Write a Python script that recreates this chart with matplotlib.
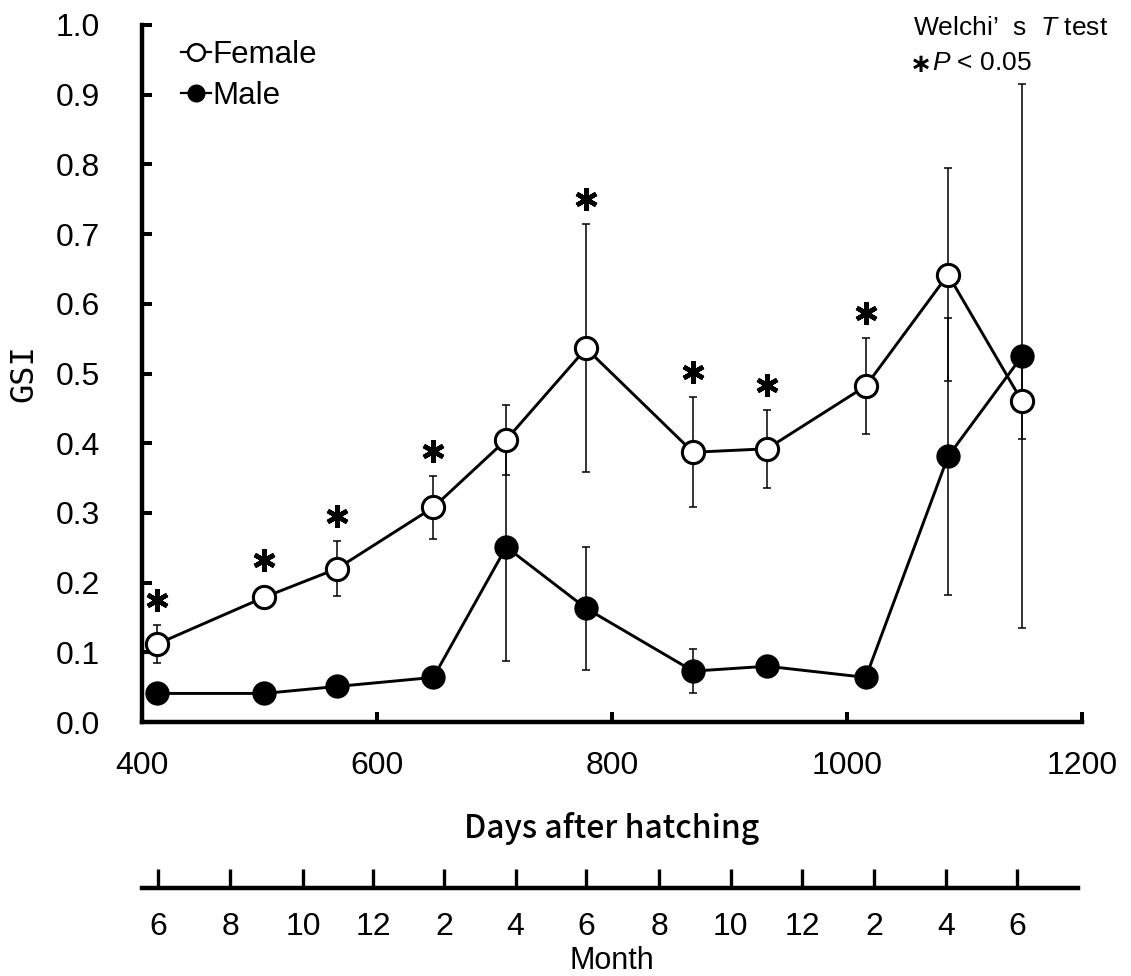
import matplotlib
matplotlib.use("Agg")
import matplotlib.pyplot as plt
from matplotlib.lines import Line2D

# GSI of female / male, mean and error
days = [413, 504, 566, 648, 710, 778, 869, 932, 1016, 1086, 1149]
female = [0.112, 0.179, 0.220, 0.308, 0.405, 0.536, 0.387, 0.392, 0.482, 0.642, 0.460]
female_err = [0.027, 0.008, 0.039, 0.045, 0.050, 0.178, 0.079, 0.056, 0.069, 0.153, 0.054]
male = [0.041, 0.041, 0.051, 0.064, 0.251, 0.163, 0.073, 0.080, 0.064, 0.381, 0.525]
male_err = [0.005, 0.005, 0.006, 0.008, 0.164, 0.088, 0.032, 0.010, 0.008, 0.199, 0.390]
significant = [True, True, True, True, False, True, True, True, True, False, False]

y_ticks = [0.0, 0.1, 0.2, 0.3, 0.4, 0.5, 0.6, 0.7, 0.8, 0.9, 1.0]
x_ticks = [400, 600, 800, 1000, 1200]

# month scale under the day axis
month_days = [414, 475, 537, 597, 657, 718, 778, 840, 901, 962, 1023, 1084, 1145]
month_labels = ['6', '8', '10', '12', '2', '4', '6', '8', '10', '12', '2', '4', '6']

plt.rcParams['font.family'] = ['Liberation Sans', 'DejaVu Sans']
plt.rcParams['mathtext.fontset'] = 'custom'
plt.rcParams['mathtext.it'] = 'Liberation Sans:italic'
plt.rcParams['mathtext.rm'] = 'Liberation Sans'

W, H = 1131, 976
fig = plt.figure(figsize=(W / 100, H / 100), dpi=100)
ax = fig.add_axes([142 / W, 1 - 722 / H, 940 / W, 697 / H])

# error bars first so the markers sit on top
ax.errorbar(days, female, yerr=female_err, fmt='none', ecolor='black',
            elinewidth=1.1, capsize=3, capthick=1.1, zorder=2)
ax.errorbar(days, male, yerr=male_err, fmt='none', ecolor='black',
            elinewidth=1.1, capsize=3, capthick=1.1, zorder=2)
ax.plot(days, male, '-o', color='black', lw=2.1, ms=16, mfc='black',
        mec='black', mew=1.5, zorder=3, clip_on=False)
ax.plot(days, female, '-o', color='black', lw=2.1, ms=16, mfc='white',
        mec='black', mew=2.2, zorder=4, clip_on=False)

# significance asterisks
for d, f, fe, s in zip(days, female, female_err, significant):
    if s:
        top = max(f + fe, f + 0.017)
        ax.plot(d, top + 0.036, marker=(6, 2, 0), ms=16, mew=3.3,
                color='black', zorder=5)

ax.set_xlim(400, 1200)
ax.set_ylim(0, 1.0)
ax.set_xticks(x_ticks)
ax.set_yticks(y_ticks)
ax.set_yticklabels(['%.1f' % v for v in y_ticks])
ax.tick_params(axis='both', direction='in', width=2.9, labelsize=23)
ax.tick_params(axis='x', length=7, pad=21)
ax.tick_params(axis='y', length=7, pad=30)
for side in ['top', 'right']:
    ax.spines[side].set_visible(False)
for side in ['left', 'bottom']:
    ax.spines[side].set_linewidth(3.2)

ax.set_ylabel('GSI', family=['DejaVu Sans Mono'], fontsize=23)
ax.yaxis.label.set_va('center')
ax.yaxis.set_label_coords(-0.1255, 0.5)
ax.set_xlabel('Days after hatching', family=['Noto Sans CJK JP', 'DejaVu Sans'],
              fontsize=23, fontweight='medium', labelpad=22)

# legend
handles = [Line2D([], [], color='black', lw=1.6, marker='o', ms=12,
                  mfc='white', mec='black', mew=1.8),
           Line2D([], [], color='black', lw=1.6, marker='o', ms=12,
                  mfc='black', mec='black')]
ax.legend(handles, ['Female', 'Male'], loc='upper left',
          bbox_to_anchor=(0.028, 0.997), frameon=False, fontsize=22.5,
          handlelength=0.95, handletextpad=0.05, labelspacing=0.35,
          borderaxespad=0)

ax.text(0.82, 0.995, "Welchi\u2019  s  $\\mathit{T}$ test", transform=ax.transAxes,
        fontsize=19, ha='left', va='center')
ax.text(0.817, 0.942, "\u2217", transform=ax.transAxes, family=['DejaVu Sans'],
        fontsize=19, fontweight='bold', ha='left', va='center')
ax.text(0.840, 0.945, "$\\mathit{P}$ < 0.05", transform=ax.transAxes,
        fontsize=19, ha='left', va='center')

# month axis
mx = fig.add_axes([142 / W, 1 - 888 / H, 940 / W, 0.02])
mx.set_xlim(400, 1200)
mx.set_ylim(0, 1)
for side in ['top', 'right', 'left']:
    mx.spines[side].set_visible(False)
mx.spines['bottom'].set_linewidth(3.2)
mx.spines['bottom'].set_bounds(400, 1197)
mx.set_yticks([])
mx.set_xticks(month_days)
mx.set_xticklabels(month_labels)
mx.tick_params(axis='x', direction='in', length=14, width=2.4, labelsize=23, pad=17)
mx.set_xlabel('Month', fontsize=22, labelpad=3)
mx.patch.set_visible(False)

fig.savefig('out.png', dpi=100)
